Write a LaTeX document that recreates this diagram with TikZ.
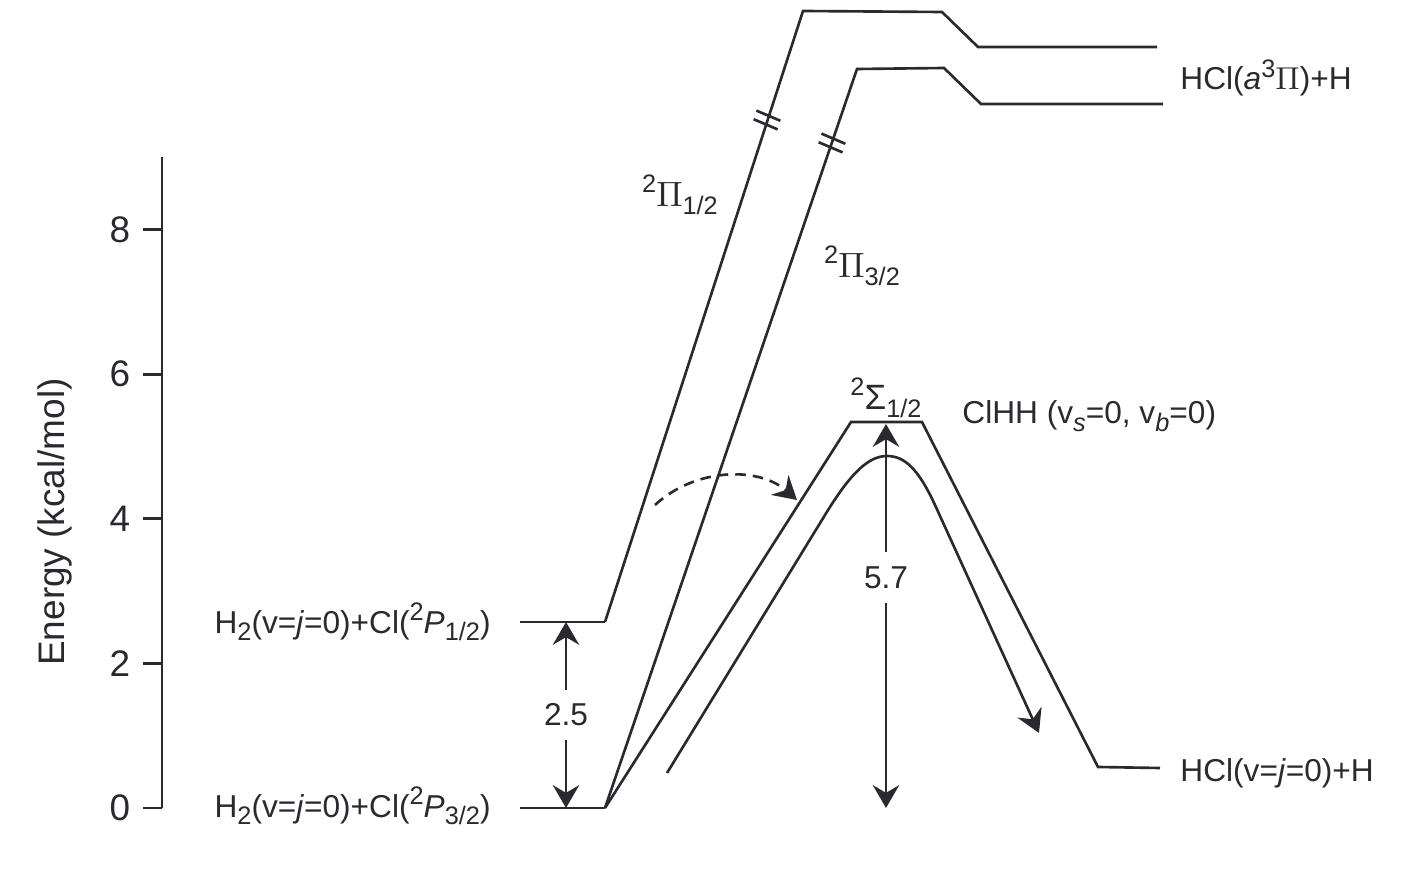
\documentclass[tikz,border=0pt]{standalone}
\usepackage{fontspec}
\setmainfont{Liberation Sans}
\usetikzlibrary{arrows.meta}

\definecolor{ink}{RGB}{40,42,48}
\newcommand{\lo}[1]{\raisebox{-0.45ex}{\fontsize{7.2}{8}\selectfont #1}}
\newcommand{\hi}[1]{\raisebox{0.75ex}{\fontsize{7.2}{8}\selectfont #1}}

\tikzset{
  curve/.style={line width=0.75pt, ink},
  tipped/.style={line width=0.75pt, ink, >={Stealth[length=6.5pt, width=7.5pt, inset=2.2pt]}},
  lbl/.style={font=\fontsize{9}{11}\selectfont, text=ink},
}

\begin{document}
\begin{tikzpicture}[x=0.01cm, y=-0.01cm]
\useasboundingbox (0,0) rectangle (1414,894);

% energy axis
\draw[curve] (162,157) -- (162,808);
\foreach \e in {0,2,...,8} {
  \draw[curve] (143,808-72.3*\e) -- (162,808-72.3*\e);
  \node[lbl, font=\fontsize{10.5}{12}\selectfont] at (120,808-72.3*\e) {\e};
}
\node[lbl, font=\fontsize{10.5}{12}\selectfont, rotate=90] (ylab) at (55,522) {Energy (kcal/mol)};

% reactant levels
\coordinate (p32a) at (520,808);
\coordinate (p32b) at (605,808);
\coordinate (p12a) at (520,622);
\coordinate (p12b) at (605,622);
\draw[curve] (p32a) -- (p32b);
\draw[curve] (p12a) -- (p12b);
\node[lbl, anchor=east] (p32lab) at (503,806) {H\lo{2}(v=\textit{j}=0)+Cl(\hi{2}\textit{P}\lo{3/2})};
\node[lbl, anchor=east] (p12lab) at (503,622) {H\lo{2}(v=\textit{j}=0)+Cl(\hi{2}\textit{P}\lo{1/2})};
\draw[tipped, <->] (566,622) -- node[lbl, fill=white, inner sep=4pt] {2.5} (566,808);

% excited surfaces
\coordinate (pia) at (803,11);
\coordinate (pib) at (857,69);
\draw[curve] (p12b) -- (pia) -- (942,12) -- (978,47) -- (1157,47);
\draw[curve] (p32b) -- (pib) -- (944,68) -- (981,104) -- (1163,104);
\coordinate (brkA) at (767,120);
\coordinate (brkB) at (832,143);
\foreach \b in {brkA,brkB} {
  \draw[curve] ([shift={(-10.6,-9.4)}]\b) -- ([shift={(13.4,0.8)}]\b);
  \draw[curve] ([shift={(-13.4,-0.8)}]\b) -- ([shift={(10.6,9.4)}]\b);
}
\node[lbl, font=\fontsize{10}{12}\selectfont] (pi12) at (680,195) {\hi{2}$\Pi$\lo{1/2}};
\node[lbl, font=\fontsize{10}{12}\selectfont] (pi32) at (862,266) {\hi{2}$\Pi$\lo{3/2}};
\node[lbl, anchor=west] (hcla) at (1168,78) {HCl(\textit{a}\hi{3}$\Pi$)+H};

% ground surface
\coordinate (sga) at (851,422);
\coordinate (sgb) at (922,422);
\coordinate (hcl) at (1160,768);
\draw[curve] (p32b) -- (sga) -- (sgb) -- (1098,767) -- (hcl);
\node[lbl, font=\fontsize{10}{12}\selectfont] (sig) at (886,398) {\hi{2}Σ\lo{1/2}};
\node[lbl, anchor=west] (clhh) at (950,416) {ClHH (v\lo{\textit{s}}=0, v\lo{\textit{b}}=0)};
\node[lbl, anchor=west] (hclv) at (1168,773) {HCl(v=\textit{j}=0)+H};

% trajectory and barrier
\draw[tipped, ->] (667,773) -- (825,515) .. controls (850,474) and (868,456) .. (887,456)
  .. controls (904,456) and (918,468) .. (935,505) -- (1039,733);
\draw[tipped, <->] (886,424) -- node[lbl, pos=0.4, fill=white, inner sep=4pt] {5.7} (886,808);
\draw[tipped, ->, dash pattern=on 3pt off 2pt] (655,505) .. controls (695,468) and (758,466) .. (797,500);
\end{tikzpicture}
\end{document}
